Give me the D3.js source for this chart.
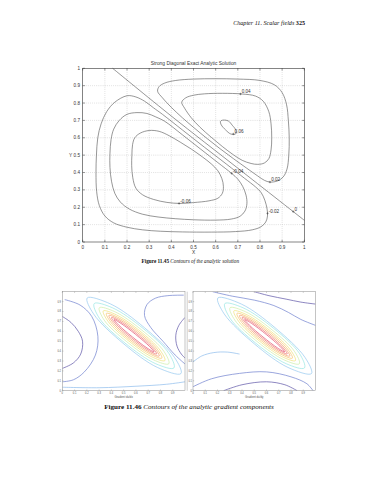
<!DOCTYPE html>
<html>
<head>
<meta charset="utf-8">
<script src="https://cdn.jsdelivr.net/npm/d3@7/dist/d3.min.js"></script>
<style>
  body { margin: 0; background: #fff; }
</style>
</head>
<body>
<div id="page"></div>
<script>
// ---- page texts
const headerText = "Chapter 11. Scalar fields ";
const headerPage = "325";
const mainTitle = "Strong Diagonal Exact Analytic Solution";
const caption45 = ["Figure 11.45 ", "Contours of the analytic solution"];
const caption46 = ["Figure 11.46 ", "Contours of the analytic gradient components"];

// ---- axis ticks
const mainTicks = [0, 0.1, 0.2, 0.3, 0.4, 0.5, 0.6, 0.7, 0.8, 0.9, 1];
const mainTickLabels = ["0", "0.1", "0.2", "0.3", "0.4", "0.5", "0.6", "0.7", "0.8", "0.9", "1"];
const gradTicks = [0, 0.1, 0.2, 0.3, 0.4, 0.5, 0.6, 0.7, 0.8, 0.9];
const gradTickLabels = ["0", "0.1", "0.2", "0.3", "0.4", "0.5", "0.6", "0.7", "0.8", "0.9"];

// ---- contours of the analytic solution (x, y)
const zeroLine = [[0.135, 1.0], [0.4, 0.725], [0.7, 0.425], [1.0, 0.125]];
const level02 = [[0.338,0.868],[0.36,0.83],[0.40,0.775],[0.45,0.715],[0.50,0.66],[0.56,0.597],[0.62,0.537],[0.68,0.48],[0.74,0.425],[0.79,0.38],[0.82,0.355],[0.845,0.345],[0.88,0.352],[0.905,0.375],[0.922,0.42],[0.93,0.5],[0.932,0.6],[0.928,0.7],[0.92,0.79],[0.9,0.86],[0.865,0.905],[0.8,0.93],[0.7,0.938],[0.6,0.94],[0.5,0.938],[0.42,0.93],[0.37,0.915],[0.345,0.895]];
const level04 = [[0.447,0.805],[0.46,0.77],[0.49,0.715],[0.53,0.66],[0.58,0.603],[0.63,0.55],[0.68,0.502],[0.72,0.47],[0.76,0.452],[0.79,0.447],[0.82,0.455],[0.84,0.48],[0.85,0.53],[0.853,0.6],[0.85,0.68],[0.84,0.75],[0.815,0.81],[0.78,0.84],[0.72,0.852],[0.63,0.856],[0.55,0.853],[0.5,0.845],[0.465,0.83]];
const level06 = [[0.635,0.702],[0.657,0.697],[0.675,0.672],[0.692,0.642],[0.69,0.622],[0.668,0.622],[0.645,0.645],[0.625,0.675],[0.622,0.695]];
const levelM02 = [[0.2,0.842],[0.24,0.835],[0.28,0.81],[0.32,0.772],[0.36,0.735],[0.45,0.645],[0.55,0.545],[0.65,0.447],[0.73,0.367],[0.78,0.317],[0.805,0.285],[0.822,0.24],[0.832,0.19],[0.834,0.15],[0.826,0.115],[0.805,0.088],[0.765,0.07],[0.69,0.06],[0.58,0.057],[0.45,0.058],[0.35,0.062],[0.27,0.07],[0.2,0.085],[0.14,0.11],[0.1,0.15],[0.075,0.21],[0.063,0.29],[0.06,0.4],[0.062,0.5],[0.068,0.6],[0.083,0.68],[0.108,0.75],[0.145,0.805]];
const levelM04 = [[0.2,0.735],[0.245,0.745],[0.29,0.74],[0.33,0.72],[0.37,0.695],[0.45,0.617],[0.53,0.537],[0.61,0.457],[0.672,0.395],[0.70,0.362],[0.722,0.32],[0.737,0.27],[0.741,0.22],[0.732,0.178],[0.71,0.148],[0.67,0.132],[0.6,0.126],[0.5,0.128],[0.42,0.134],[0.34,0.144],[0.27,0.16],[0.21,0.19],[0.17,0.23],[0.145,0.28],[0.13,0.35],[0.123,0.43],[0.123,0.51],[0.128,0.59],[0.14,0.65],[0.165,0.7]];
const levelM06 = [[0.222,0.50],[0.225,0.56],[0.235,0.60],[0.26,0.627],[0.3,0.642],[0.345,0.637],[0.39,0.612],[0.44,0.575],[0.49,0.535],[0.54,0.49],[0.58,0.45],[0.61,0.41],[0.628,0.365],[0.635,0.32],[0.63,0.28],[0.61,0.252],[0.57,0.237],[0.5,0.227],[0.44,0.222],[0.38,0.228],[0.32,0.245],[0.27,0.272],[0.24,0.31],[0.226,0.37],[0.221,0.44]];

// contour labels: text and the point on the curve where it sits
const labelText = ["0.04", "0.06", "-0.04", "0.02", "0", "-0.02", "-0.06"];
const labelX = [0.712, 0.68, 0.672, 0.845, 0.95, 0.834, 0.435];
const labelY = [0.852, 0.622, 0.395, 0.345, 0.175, 0.165, 0.222];

// ---- gradient plots: ridge contours (inner -> outer), shared by both components
const ridge1 = [[0.748,0.392],[0.709,0.449],[0.598,0.568],[0.479,0.679],[0.422,0.718],[0.461,0.661],[0.572,0.542],[0.691,0.431]];
const ridge2 = [[0.769,0.371],[0.730,0.440],[0.606,0.576],[0.470,0.700],[0.401,0.739],[0.440,0.670],[0.564,0.534],[0.700,0.410]];
const ridge3 = [[0.790,0.350],[0.751,0.431],[0.615,0.585],[0.461,0.721],[0.380,0.760],[0.419,0.679],[0.555,0.525],[0.709,0.389]];
const ridge4 = [[0.811,0.329],[0.772,0.422],[0.624,0.594],[0.452,0.742],[0.359,0.781],[0.398,0.688],[0.546,0.516],[0.718,0.368]];
const ridge5 = [[0.836,0.304],[0.796,0.411],[0.633,0.603],[0.441,0.766],[0.334,0.806],[0.374,0.698],[0.537,0.507],[0.728,0.343]];
const ridge6 = [[0.868,0.272],[0.828,0.398],[0.645,0.615],[0.428,0.798],[0.302,0.838],[0.342,0.712],[0.525,0.495],[0.742,0.312]];
const ridge7 = [[0.910,0.230],[0.868,0.378],[0.659,0.629],[0.408,0.838],[0.260,0.880],[0.302,0.732],[0.511,0.481],[0.762,0.272]];
const ridge8 = [[0.967,0.173],[0.915,0.335],[0.668,0.638],[0.395,0.875],[0.203,0.937],[0.255,0.775],[0.502,0.472],[0.775,0.235]];
const ridgeLevels = [ridge1, ridge2, ridge3, ridge4, ridge5, ridge6, ridge7, ridge8];
const ridgeColors = ["#e0405e", "#ea6660", "#f2965e", "#f6bf62", "#eede6e", "#c9eca0", "#8ee4e0", "#8cc4ee"];

// x component: low-value curves at the left and right sides
const gxLeftInner = [[0,0.75],[0.07,0.69],[0.13,0.6],[0.165,0.5],[0.15,0.37],[0.09,0.28],[0,0.225]];
const gxLeftOuter = [[0.02,0.92],[0.145,0.865],[0.24,0.75],[0.29,0.55],[0.27,0.36],[0.18,0.19],[0.09,0.11],[0,0.09]];
const gxRightInner = [[1.0,0.74],[0.95,0.66],[0.925,0.56],[0.935,0.45],[0.97,0.37],[1.0,0.33]];
const gxRightOuter = [[0.99,0.965],[0.86,0.96],[0.76,0.935],[0.69,0.87],[0.67,0.76],[0.72,0.64],[0.82,0.5],[0.92,0.36],[1.0,0.27]];
const gxBottom = [[0.0,0.035],[0.3,0.03],[0.6,0.045],[0.85,0.065],[1.0,0.09]];
// y component: low-value curves at the top and bottom
const gyTopInner = [[0.5,1.0],[0.62,0.96],[0.76,0.925],[0.88,0.895],[1.0,0.875]];
const gyTopOuter = [[0.16,1.0],[0.32,0.955],[0.5,0.915],[0.66,0.86],[0.78,0.79],[0.88,0.72],[1.0,0.66]];
const gyBottomInner = [[0.25,0.0],[0.4,0.06],[0.6,0.09],[0.75,0.06],[0.85,0.0]];
const gyBottomOuter = [[0.0,0.04],[0.15,0.12],[0.38,0.175],[0.6,0.19],[0.8,0.14],[0.93,0.07],[0.98,0.0]];
const gyLeftLow = [[0,0.29],[0.07,0.35],[0.17,0.385],[0.28,0.39],[0.38,0.37]];

const sideColors = { dark: "#5b53a6", blue: "#6f80cf", light: "#8cbcec" };

const W = 370, H = 480;
const serif = "'Liberation Serif', 'DejaVu Serif', serif";
const sans = "'Liberation Sans', Arial, sans-serif";

const svg = d3.select("#page").append("svg")
  .attr("width", W).attr("height", H)
  .style("display", "block");

// scale the font so the text takes the measured width
function fitWidth(sel, width) {
  const len = sel.node().getComputedTextLength();
  const fs = parseFloat(sel.attr("font-size"));
  sel.attr("font-size", fs * width / len);
}

// header
const header = svg.append("text")
  .attr("x", 305).attr("y", 25)
  .attr("text-anchor", "end")
  .attr("font-family", serif).attr("font-size", 6)
  .attr("fill", "#111");
header.append("tspan").attr("font-style", "italic").text(headerText);
header.append("tspan").attr("font-weight", "bold").text(headerPage);
fitWidth(header, 72);

// ---- main contour plot
const x = d3.scaleLinear().domain([0, 1]).range([82.7, 304.3]);
const y = d3.scaleLinear().domain([0, 1]).range([242, 68.3]);

const main = svg.append("g");

// dotted grid
main.append("g").selectAll("line")
  .data(mainTicks.slice(1, -1))
  .join("line")
  .attr("x1", d => x(d)).attr("x2", d => x(d))
  .attr("y1", y(0)).attr("y2", y(1))
  .attr("stroke", "#9a9a9a").attr("stroke-width", 0.45)
  .attr("stroke-dasharray", "0.6,1.3");
main.append("g").selectAll("line")
  .data(mainTicks.slice(1, -1))
  .join("line")
  .attr("y1", d => y(d)).attr("y2", d => y(d))
  .attr("x1", x(0)).attr("x2", x(1))
  .attr("stroke", "#9a9a9a").attr("stroke-width", 0.45)
  .attr("stroke-dasharray", "0.6,1.3");

// contours
const closedLine = d3.line().x(d => x(d[0])).y(d => y(d[1])).curve(d3.curveCatmullRomClosed.alpha(0.5));
const openLine = d3.line().x(d => x(d[0])).y(d => y(d[1])).curve(d3.curveCatmullRom.alpha(0.5));
const loops = [level02, level04, level06, levelM02, levelM04, levelM06];

main.append("g").selectAll("path")
  .data(loops)
  .join("path")
  .attr("d", closedLine)
  .attr("fill", "none").attr("stroke", "#505050").attr("stroke-width", 0.6);
main.append("path")
  .attr("d", openLine(zeroLine))
  .attr("fill", "none").attr("stroke", "#505050").attr("stroke-width", 0.6);

// contour labels with "+" markers
const labels = main.append("g").selectAll("g")
  .data(labelText.map((t, i) => ({ t, px: labelX[i], py: labelY[i] })))
  .join("g")
  .attr("transform", d => `translate(${x(d.px)},${y(d.py)})`);
labels.append("path")
  .attr("d", "M-1.2,0H1.2M0,-1.2V1.2")
  .attr("stroke", "#333").attr("stroke-width", 0.45);
labels.append("text")
  .attr("x", 1.2).attr("y", -0.6)
  .attr("font-family", sans).attr("font-size", 4.6)
  .attr("fill", "#333")
  .text(d => d.t);

// frame and inward ticks
main.append("rect")
  .attr("x", x(0)).attr("y", y(1))
  .attr("width", x(1) - x(0)).attr("height", y(0) - y(1))
  .attr("fill", "none").attr("stroke", "#333").attr("stroke-width", 0.6);
const tk = main.append("g").attr("stroke", "#333").attr("stroke-width", 0.5);
mainTicks.forEach(t => {
  tk.append("line").attr("x1", x(t)).attr("x2", x(t)).attr("y1", y(0)).attr("y2", y(0) - 2.2);
  tk.append("line").attr("x1", x(t)).attr("x2", x(t)).attr("y1", y(1)).attr("y2", y(1) + 2.2);
  tk.append("line").attr("y1", y(t)).attr("y2", y(t)).attr("x1", x(0)).attr("x2", x(0) + 2.2);
  tk.append("line").attr("y1", y(t)).attr("y2", y(t)).attr("x1", x(1)).attr("x2", x(1) - 2.2);
});

// tick labels
main.append("g").selectAll("text")
  .data(mainTicks)
  .join("text")
  .attr("x", d => x(d)).attr("y", 248.5)
  .attr("text-anchor", "middle")
  .attr("font-family", sans).attr("font-size", 4.6).attr("fill", "#333")
  .text((d, i) => mainTickLabels[i]);
main.append("g").selectAll("text")
  .data(mainTicks)
  .join("text")
  .attr("x", 80).attr("y", d => y(d) + 1.6)
  .attr("text-anchor", "end")
  .attr("font-family", sans).attr("font-size", 4.6).attr("fill", "#333")
  .text((d, i) => mainTickLabels[i]);

main.append("text")
  .attr("x", 193.5).attr("y", 253.5)
  .attr("text-anchor", "middle")
  .attr("font-family", sans).attr("font-size", 4.8).attr("fill", "#333")
  .text("X");
main.append("text")
  .attr("x", 70.5).attr("y", 157)
  .attr("text-anchor", "middle")
  .attr("font-family", sans).attr("font-size", 4.8).attr("fill", "#333")
  .text("Y");

const title = main.append("text")
  .attr("x", 193.5).attr("y", 64.5)
  .attr("text-anchor", "middle")
  .attr("font-family", sans).attr("font-size", 5).attr("fill", "#333")
  .text(mainTitle);
fitWidth(title, 86);

// caption of figure 11.45
const cap45 = svg.append("text")
  .attr("x", 190.3).attr("y", 262.5)
  .attr("text-anchor", "middle")
  .attr("font-family", serif).attr("font-size", 5.5).attr("fill", "#111");
cap45.append("tspan").attr("font-weight", "bold").text(caption45[0]);
cap45.append("tspan").attr("font-style", "italic").text(caption45[1]);
fitWidth(cap45, 97.6);

// ---- gradient component plots
const gy = d3.scaleLinear().domain([0, 1]).range([390.7, 291.7]);

function drawGradient(xs, sideCurves, axisLabel, labelRight) {
  const g = svg.append("g");
  const ridgeLine = d3.line().x(d => xs(d[0])).y(d => gy(d[1])).curve(d3.curveCatmullRomClosed.alpha(0.5));
  const sideLine = d3.line().x(d => xs(d[0])).y(d => gy(d[1])).curve(d3.curveCatmullRom.alpha(0.5));

  const clip = "clip-" + axisLabel.replace(/[^a-z]/gi, "");
  g.append("clipPath").attr("id", clip)
    .append("rect")
    .attr("x", xs(0)).attr("y", gy(1))
    .attr("width", xs(1) - xs(0)).attr("height", gy(0) - gy(1));

  const plot = g.append("g").attr("clip-path", `url(#${clip})`);
  plot.selectAll("path.side")
    .data(sideCurves)
    .join("path")
    .attr("class", "side")
    .attr("d", d => sideLine(d.points))
    .attr("fill", "none")
    .attr("stroke", d => sideColors[d.color])
    .attr("stroke-width", 0.7);
  plot.selectAll("path.ridge")
    .data(ridgeLevels)
    .join("path")
    .attr("class", "ridge")
    .attr("d", ridgeLine)
    .attr("fill", "none")
    .attr("stroke", (d, i) => ridgeColors[i])
    .attr("stroke-width", 0.65);

  g.append("rect")
    .attr("x", xs(0)).attr("y", gy(1))
    .attr("width", xs(1) - xs(0)).attr("height", gy(0) - gy(1))
    .attr("fill", "none").attr("stroke", "#8a8a8a").attr("stroke-width", 0.5);

  const t = g.append("g").attr("stroke", "#777").attr("stroke-width", 0.35);
  gradTicks.forEach(v => {
    t.append("line").attr("x1", xs(v)).attr("x2", xs(v)).attr("y1", gy(0)).attr("y2", gy(0) - 1.2);
    t.append("line").attr("x1", xs(v)).attr("x2", xs(v)).attr("y1", gy(1)).attr("y2", gy(1) + 1.2);
    t.append("line").attr("y1", gy(v)).attr("y2", gy(v)).attr("x1", xs(0)).attr("x2", xs(0) + 1.2);
  });

  g.append("g").selectAll("text")
    .data(gradTicks)
    .join("text")
    .attr("x", d => xs(d)).attr("y", 394)
    .attr("text-anchor", "middle")
    .attr("font-family", sans).attr("font-size", 2.6).attr("fill", "#555")
    .text((d, i) => gradTickLabels[i]);
  g.append("g").selectAll("text")
    .data(gradTicks)
    .join("text")
    .attr("x", labelRight).attr("y", d => gy(d) + 0.9)
    .attr("text-anchor", "end")
    .attr("font-family", sans).attr("font-size", 2.6).attr("fill", "#555")
    .text((d, i) => gradTickLabels[i]);
  g.append("text")
    .attr("x", (xs(0) + xs(1)) / 2).attr("y", 397.5)
    .attr("text-anchor", "middle")
    .attr("font-family", sans).attr("font-size", 2.8).attr("fill", "#555")
    .text(axisLabel);
}

const gxScale = d3.scaleLinear().domain([0, 1]).range([62.3, 185]);
const gyScale = d3.scaleLinear().domain([0, 1]).range([193, 315.5]);

drawGradient(gxScale, [
  { color: "dark", points: gxLeftInner },
  { color: "blue", points: gxLeftOuter },
  { color: "dark", points: gxRightInner },
  { color: "blue", points: gxRightOuter },
  { color: "light", points: gxBottom }
], "Gradient du/dx", 61);

drawGradient(gyScale, [
  { color: "dark", points: gyTopInner },
  { color: "blue", points: gyTopOuter },
  { color: "dark", points: gyBottomInner },
  { color: "blue", points: gyBottomOuter },
  { color: "light", points: gyLeftLow }
], "Gradient du/dy", 192);

// frame line between the two embedded pictures
svg.append("line")
  .attr("x1", 187.2).attr("x2", 187.2).attr("y1", gy(1)).attr("y2", gy(0))
  .attr("stroke", "#9a9a9a").attr("stroke-width", 0.5);

// caption of figure 11.46
const cap46 = svg.append("text")
  .attr("x", 189).attr("y", 409)
  .attr("text-anchor", "middle")
  .attr("font-family", serif).attr("font-size", 6).attr("fill", "#111");
cap46.append("tspan").attr("font-weight", "bold").text(caption46[0]);
cap46.append("tspan").attr("font-style", "italic").text(caption46[1]);
fitWidth(cap46, 170);
</script>
</body>
</html>
